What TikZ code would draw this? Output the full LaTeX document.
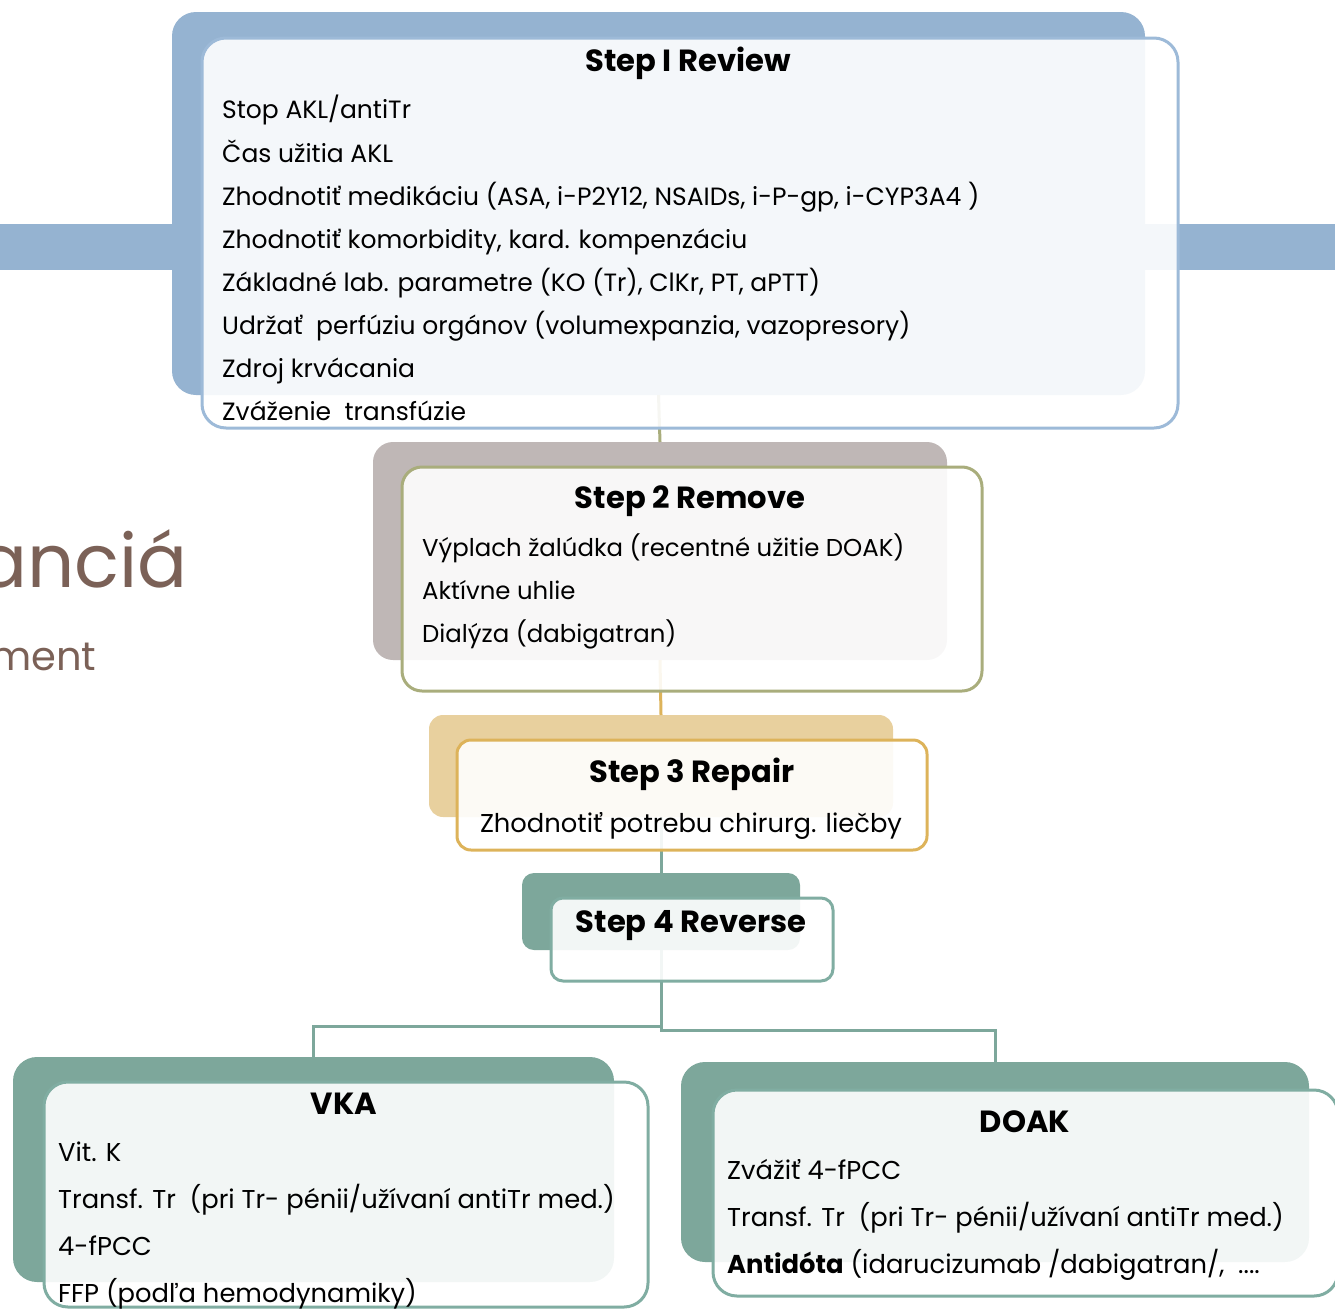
\documentclass[tikz,border=0pt]{standalone}
\usepackage{fontspec}
\setmainfont{Poppins}
\newfontfamily\bigfont{Poppins}
\definecolor{bandblue}{HTML}{95B3D1}
\definecolor{edgeblue}{HTML}{9DBAD8}
\definecolor{mauve}{HTML}{BFB7B6}
\definecolor{olive}{HTML}{A9AD7C}
\definecolor{tan}{HTML}{E8D09E}
\definecolor{gold}{HTML}{DDB35A}
\definecolor{teal}{HTML}{7DA79B}
\definecolor{tealedge}{HTML}{80ADA2}
\definecolor{brown}{HTML}{7B6157}
\tikzset{
  shadowbox/.style={draw=none, rectangle, rounded corners=24pt, anchor=north west, inner sep=0pt, outer sep=0pt},
  frontbox/.style={rectangle, rounded corners=24pt, anchor=north west, inner sep=0pt, outer sep=0pt, line width=3pt, fill=white, fill opacity=0.9},
  body/.style={anchor=base west, inner sep=0pt, font=\fontsize{25}{29}\selectfont},
  bodyB/.style={anchor=base west, inner sep=0pt, font=\fontsize{24.4}{29}\selectfont},
  bodyC/.style={anchor=base west, inner sep=0pt, font=\fontsize{25.8}{30}\selectfont},
  ttl/.style={anchor=base, inner sep=0pt, font=\fontsize{30.6}{36}\selectfont\bfseries},
  conn/.style={line width=3pt}
}
\begin{document}
\begin{tikzpicture}[x=1pt,y=-1pt]
\useasboundingbox (0,0) rectangle (1335,1309);
\clip (0,0) rectangle (1335,1309);
% background band and title fragments
\fill[bandblue] (0,224) rectangle (1335,270);
\node[anchor=base west, inner sep=0pt, text=brown, font=\bigfont\fontsize{74}{80}\selectfont] (tA) at (-23,587) {anciá};
\node[anchor=base west, inner sep=0pt, text=brown, font=\bigfont\fontsize{40}{46}\selectfont] (tB) at (-10,670) {ment};
% shadow boxes
\node[shadowbox, fill=bandblue, minimum width=973pt, minimum height=383pt] (sh1) at (172,12) {};
\node[shadowbox, fill=mauve, rounded corners=20pt, minimum width=574pt, minimum height=218pt] (sh2) at (373,442) {};
\node[shadowbox, fill=tan, rounded corners=14pt, minimum width=464pt, minimum height=102pt] (sh3) at (429,715) {};
\node[shadowbox, fill=teal, rounded corners=12pt, minimum width=278pt, minimum height=77pt] (sh4) at (522,873) {};
\node[shadowbox, fill=teal, minimum width=601pt, minimum height=225pt] (sh5) at (13,1057) {};
\node[shadowbox, fill=teal, minimum width=628pt, minimum height=200pt] (sh6) at (681,1062) {};
% connectors
\draw[conn, olive] (sh1.south) -- (sh2.north);
\draw[conn, gold] (sh2.south) -- (sh3.north);
\draw[conn, teal] (sh3.south) -- (sh4.north);
\draw[conn, teal] (sh4.south) -- ++(0,80) -| (sh6.north);
\draw[conn, teal] (sh4.south) -- ++(0,76) -| (sh5.north);
% front boxes
\node[frontbox, draw=edgeblue, minimum width=976pt, minimum height=390pt] (b1) at (202,38) {};
\node[frontbox, draw=olive, rounded corners=20pt, minimum width=580pt, minimum height=224pt] (b2) at (402,467) {};
\node[frontbox, draw=gold, rounded corners=14pt, minimum width=470pt, minimum height=110pt] (b3) at (457,740) {};
\node[frontbox, draw=tealedge, rounded corners=12pt, minimum width=282pt, minimum height=83pt] (b4) at (551,898) {};
\node[frontbox, draw=tealedge, minimum width=604pt, minimum height=225pt] (b5) at (44,1082) {};
\node[frontbox, draw=tealedge, minimum width=625pt, minimum height=206pt] (b6) at (713,1090) {};
% Step 1 text
\node[ttl] (t1) at (688,71) {Step I Review};
\node[body] (l11) at (222,118) {Stop AKL/antiTr};
\node[body] (l12) at (222,162) {Čas užitia AKL};
\node[body] (l13) at (222,205) {Zhodnotiť medikáciu (ASA, i-P2Y12, NSAIDs, i-P-gp, i-CYP3A4 )};
\node[body] (l14) at (222,248) {Zhodnotiť komorbidity, kard. kompenzáciu};
\node[body] (l15) at (222,291) {Základné lab. parametre (KO (Tr), ClKr, PT, aPTT)};
\node[body] (l16) at (222,334) {Udržať~ perfúziu orgánov (volumexpanzia, vazopresory)};
\node[body] (l17) at (222,377) {Zdroj krvácania};
\node[body] (l18) at (222,420) {Zváženie~ transfúzie};
% Step 2 text
\node[ttl] (t2) at (690,508) {Step 2 Remove};
\node[bodyB] (l21) at (422,556) {Výplach žalúdka (recentné užitie DOAK)};
\node[bodyB] (l22) at (422,599) {Aktívne uhlie};
\node[bodyB] (l23) at (422,642) {Dialýza (dabigatran)};
% Step 3 text
\node[ttl] (t3) at (692,782) {Step 3 Repair};
\node[bodyC, anchor=base] (l31) at (691,832) {Zhodnotiť potrebu chirurg. liečby};
% Step 4 text
\node[ttl] (t4) at (691,932) {Step 4 Reverse};
% VKA
\node[ttl] (t5) at (344,1114) {VKA};
\node[bodyC] (l51) at (58,1161) {Vit. K};
\node[bodyC] (l52) at (58,1208) {Transf. Tr~ (pri Tr- pénii/užívaní antiTr med.)};
\node[bodyC] (l53) at (58,1255) {4-fPCC};
\node[bodyC] (l54) at (58,1302) {FFP (podľa hemodynamiky)};
% DOAK
\node[ttl] (t6) at (1025,1132) {DOAK};
\node[bodyC] (l61) at (727,1179) {Zvážiť 4-fPCC};
\node[bodyC] (l62) at (727,1226) {Transf. Tr~ (pri Tr- pénii/užívaní antiTr med.)};
\node[bodyC] (l63) at (727,1273) {\textbf{Antidóta} (idarucizumab /dabigatran/,~ ....};
\end{tikzpicture}
\end{document}
